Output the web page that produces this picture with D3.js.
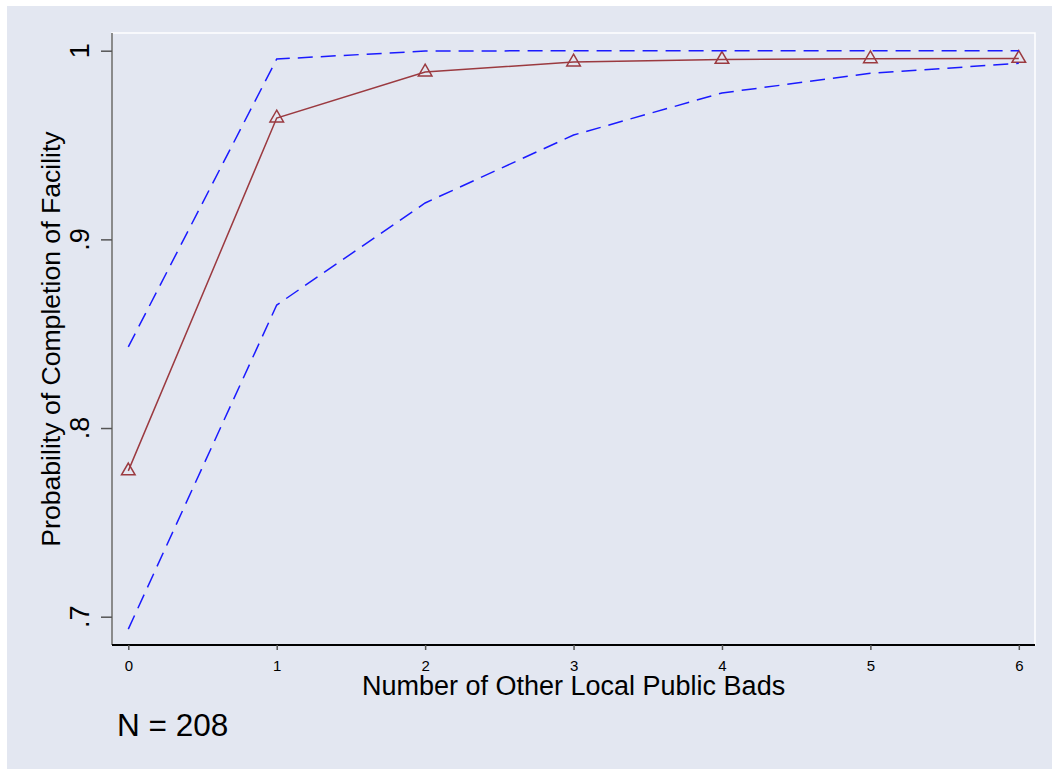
<!DOCTYPE html>
<html>
<head>
<meta charset="utf-8">
<script src="https://cdn.jsdelivr.net/npm/d3@7"></script>
<style>
  html, body { margin: 0; padding: 0; background: #ffffff; }
  svg { display: block; font-family: "Liberation Sans", Arial, sans-serif; }
</style>
</head>
<body>
<div id="chart"></div>
<script>
var width = 1052;
var height = 769;

// data
var xValues = [0, 1, 2, 3, 4, 5, 6];
var meanProb = [0.7773, 0.9643, 0.9887, 0.9940, 0.9954, 0.9957, 0.9959];
var upperCI = [0.8430, 0.9956, 0.9998, 1.0, 1.0, 1.0, 1.0];
var lowerCI = [0.6934, 0.8652, 0.9193, 0.9553, 0.9776, 0.9880, 0.9933];
var yTicks = [0.7, 0.8, 0.9, 1.0];
var yTickLabels = [".7", ".8", ".9", "1"];
var xTicks = [0, 1, 2, 3, 4, 5, 6];
var noteText = "N = 208";

var bg = "#e3e7f1";

var svg = d3.select("#chart").append("svg")
  .attr("width", width)
  .attr("height", height);

// graph region
svg.append("rect")
  .attr("x", 7).attr("y", 6)
  .attr("width", width - 7).attr("height", height - 6)
  .attr("fill", bg);

// plot region
var plot = {left: 112, right: 1035, top: 33, bottom: 645};
svg.append("rect")
  .attr("x", plot.left).attr("y", plot.top)
  .attr("width", plot.right - plot.left).attr("height", plot.bottom - plot.top)
  .attr("fill", bg)
  .attr("stroke", "#ffffff")
  .attr("stroke-width", 1.5);

var x = d3.scaleLinear().domain([0, 6]).range([128.3, 1018.8]);
var y = d3.scaleLinear().domain([0.7, 1]).range([616.7, 50.7]);

// y axis
var yAxis = svg.append("g")
  .attr("transform", "translate(" + plot.left + ",0)")
  .call(d3.axisLeft(y).tickValues(yTicks).tickSize(11).tickFormat(""));
yAxis.select(".domain")
  .attr("d", "M0," + plot.top + "V" + plot.bottom)
  .attr("stroke", "#666666").attr("stroke-width", 1.5);
yAxis.selectAll(".tick line").attr("stroke", "#555555").attr("stroke-width", 1.5);

svg.selectAll(".ylab")
  .data(yTicks)
  .enter().append("text")
  .attr("class", "ylab")
  .attr("transform", function(d) { return "translate(89," + y(d) + ") rotate(-90)"; })
  .attr("text-anchor", "middle")
  .attr("font-size", 27)
  .attr("fill", "#000")
  .text(function(d, i) { return yTickLabels[i]; });

// x axis
var xAxis = svg.append("g")
  .attr("transform", "translate(0," + plot.bottom + ")")
  .call(d3.axisBottom(x).tickValues(xTicks).tickSize(5).tickPadding(10).tickFormat(d3.format("d")));
xAxis.select(".domain")
  .attr("d", "M" + plot.left + ",0H" + plot.right)
  .attr("stroke", "#000000").attr("stroke-width", 2);
xAxis.selectAll(".tick line").attr("stroke", "#555555").attr("stroke-width", 1.5);
xAxis.selectAll(".tick text")
  .attr("font-size", 15)
  .attr("font-family", "Liberation Sans, Arial, sans-serif")
  .attr("fill", "#000");

// titles
svg.append("text")
  .attr("x", x(3)).attr("y", 695)
  .attr("text-anchor", "middle")
  .attr("font-size", 27)
  .text("Number of Other Local Public Bads");

svg.append("text")
  .attr("transform", "translate(60," + ((plot.top + plot.bottom) / 2) + ") rotate(-90)")
  .attr("text-anchor", "middle")
  .attr("font-size", 26.6)
  .text("Probability of Completion of Facility");

svg.append("text")
  .attr("x", 117).attr("y", 736)
  .attr("font-size", 31.5)
  .text(noteText);

// series
var line = d3.line()
  .x(function(d) { return x(d[0]); })
  .y(function(d) { return y(d[1]); });

function pairs(vals) { return xValues.map(function(v, i) { return [v, vals[i]]; }); }

var maroon = "#9b3a40";
var blue = "#1a1aff";

svg.append("path")
  .datum(pairs(meanProb))
  .attr("d", line)
  .attr("fill", "none")
  .attr("stroke", maroon)
  .attr("stroke-width", 1.5);

var tri = d3.symbol().type(d3.symbolTriangle).size(80);
svg.selectAll(".marker")
  .data(pairs(meanProb))
  .enter().append("path")
  .attr("class", "marker")
  .attr("d", tri)
  .attr("transform", function(d) { return "translate(" + x(d[0]) + "," + y(d[1]) + ")"; })
  .attr("fill", "none")
  .attr("stroke", maroon)
  .attr("stroke-width", 1.5);

[lowerCI, upperCI].forEach(function(series) {
  svg.append("path")
    .datum(pairs(series))
    .attr("d", line)
    .attr("fill", "none")
    .attr("stroke", blue)
    .attr("stroke-width", 1.5)
    .attr("stroke-dasharray", "15,8");
});
</script>
</body>
</html>
